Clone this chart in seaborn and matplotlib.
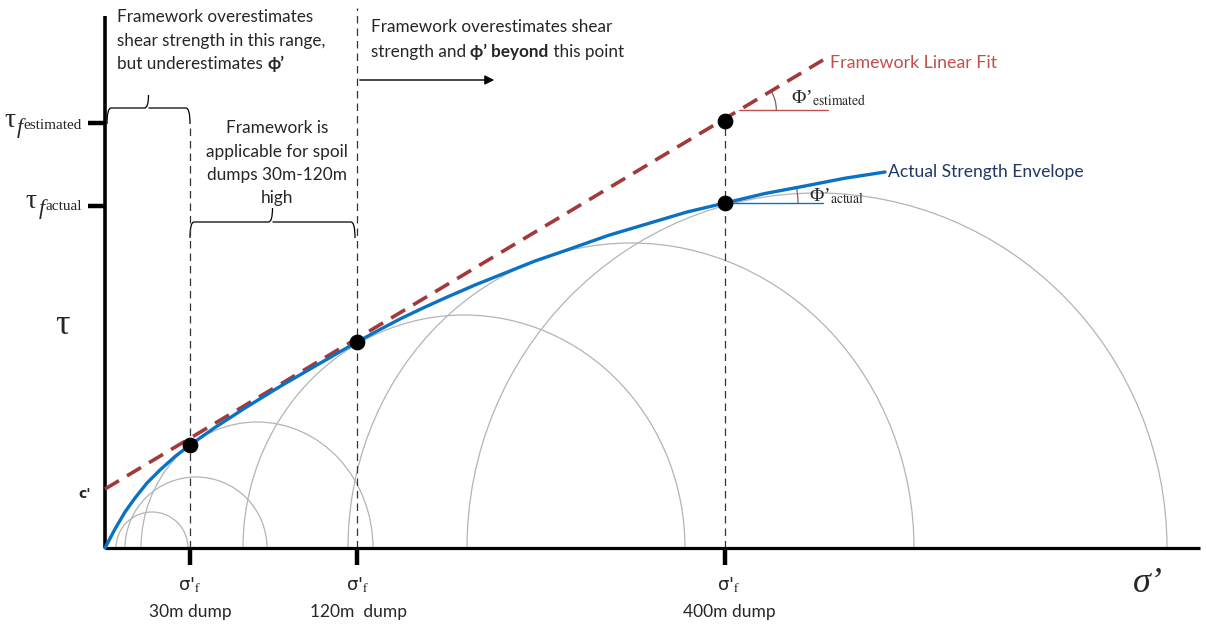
import numpy as np
import pandas as pd
import matplotlib
matplotlib.use("Agg")
import matplotlib.pyplot as plt
from matplotlib.patches import Arc, FancyArrowPatch, PathPatch
from matplotlib.path import Path
import seaborn as sns

# ---- data (σ' horizontal, τ vertical, arbitrary stress units) ----
envelope_sigma = [0, 10, 20, 30, 42, 55, 70, 85, 110, 140, 175, 212, 252,
                  275, 295, 318, 340, 370, 400, 430, 462, 503, 545, 582,
                  620, 660, 700, 740, 780]
envelope_tau = [0, 19, 36, 50, 65, 78, 91.5, 103, 120.5, 140, 161.5, 183, 206,
                218.5, 229, 240, 250, 263, 275, 287, 298, 312.5, 325, 336,
                345, 354.5, 362, 369.8, 376]

fit_sigma = [0, 718]          # linear fit drawn from c' to its end
fit_tau = [59, 488]

dump_labels = ["30m dump", "120m  dump", "400m dump"]
dump_sigma = [85, 252, 620]
dump_tau = [103, 206, 345]
tau_estimated = 427

# Mohr circles: centre on σ' axis, half-width, height
circle_centre = [47, 91, 152, 359, 526, 712]
circle_halfwidth = [36, 71, 116, 221, 283, 350]
circle_height = [36, 71, 126, 233, 305, 355]

BLUE = "#0a72c4"
RED = "#a23a3a"
RED_LABEL = "#c0504d"
NAVY = "#1f3864"
ARC_BROWN = "#8c5a55"
SERIF = ["Liberation Serif", "DejaVu Serif"]

sns.set_theme(style="white")
plt.rcParams["font.family"] = ["Lato", "DejaVu Sans"]
plt.rcParams["mathtext.fontset"] = "stix"

fig = plt.figure(figsize=(12.06, 6.25), dpi=100)
ax = fig.add_axes([0, 0, 1, 1])
ax.set_xlim(-105, 1101)
ax.set_ylim(-77, 548)
ax.axis("off")

# Mohr circles
for c, hw, h in zip(circle_centre, circle_halfwidth, circle_height):
    ax.add_patch(Arc((c, 0), 2 * hw, 2 * h, theta1=0, theta2=180,
                     color="#b4b4b4", lw=0.9, zorder=1))

# vertical guides at σ'f
guide_tops = [425, 540, tau_estimated]
for s, top in zip(dump_sigma, guide_tops):
    ax.plot([s, s], [0, top], color="#333333", lw=0.9, ls=(0, (6, 4)), zorder=2)

# axes
ax.plot([0, 1095], [0, 0], color="black", lw=2.3, solid_capstyle="butt", zorder=3)
ax.plot([0, 0], [0, 532], color="black", lw=2.6, solid_capstyle="butt", zorder=3)
for s in dump_sigma:
    ax.plot([s, s], [0, -17], color="black", lw=3.2, solid_capstyle="butt", zorder=3)
tick_levels = [tau_estimated - 2, dump_tau[2] - 3]
for t in tick_levels:
    ax.plot([-17, 0], [t, t], color="black", lw=3.2, solid_capstyle="butt", zorder=3)

# linear fit and actual envelope
fit_df = pd.DataFrame({"sigma": fit_sigma, "tau": fit_tau})
env_df = pd.DataFrame({"sigma": envelope_sigma, "tau": envelope_tau})
sns.lineplot(data=fit_df, x="sigma", y="tau", ax=ax, color=RED, lw=2.6,
             sort=False, zorder=4).lines[-1].set_dashes([4.5, 2.6])
sns.lineplot(data=env_df, x="sigma", y="tau", ax=ax, color=BLUE, lw=2.4,
             sort=False, zorder=5)
ax.lines[-1].set_solid_joinstyle("round")

pts = pd.DataFrame({"sigma": dump_sigma + [dump_sigma[2]],
                    "tau": dump_tau + [tau_estimated]})
sns.scatterplot(data=pts, x="sigma", y="tau", ax=ax, color="black", s=110,
                edgecolor="black", zorder=6)
ax.set_xlim(-105, 1101)
ax.set_ylim(-77, 548)

# friction angle indicators
slope_fit = (fit_tau[1] - fit_tau[0]) / (fit_sigma[1] - fit_sigma[0])
h_est = tau_estimated + 11
x_est = (h_est - fit_tau[0]) / slope_fit
ax.plot([x_est, 723], [h_est, h_est], color=RED_LABEL, lw=1.0, zorder=4)
ax.add_patch(Arc((x_est, h_est), 74, 74, theta1=0,
                 theta2=np.degrees(np.arctan(slope_fit)), color=ARC_BROWN, lw=0.9))
ax.plot([dump_sigma[2], 718], [dump_tau[2], dump_tau[2]], color=BLUE, lw=1.0, zorder=4)
slope_env = (envelope_tau[-1] - envelope_tau[-5]) / (envelope_sigma[-1] - envelope_sigma[-5])
ax.add_patch(Arc((dump_sigma[2], dump_tau[2]), 146, 146, theta1=0,
                 theta2=np.degrees(np.arctan(slope_env)), color=ARC_BROWN, lw=0.9))

ax.text(686, 450, "Φ’$_{\\mathrm{estimated}}$", fontsize=14, family=SERIF,
        ha="left", va="center")
ax.text(704, 352, "Φ’$_{\\mathrm{actual}}$", fontsize=14, family=SERIF,
        ha="left", va="center")

# series labels
ax.text(725, 485, "Framework Linear Fit", color=RED_LABEL, fontsize=12.8,
        ha="left", va="center")
ax.text(783, 376, "Actual Strength Envelope", color=NAVY, fontsize=12.6,
        ha="left", va="center")

# axis symbols
ax.text(-43, 223, "τ", fontsize=26, family=SERIF, ha="center", va="center")
ax.text(1043, -35, "σ’", fontsize=26, family=SERIF, style="italic",
        ha="center", va="center")
ax.text(-20, 54, "c'", fontsize=10, fontweight="bold", family=["DejaVu Sans"],
        ha="center", va="center")

fig.canvas.draw()
renderer = fig.canvas.get_renderer()
inv = ax.transData.inverted()


def left_of(text_artist):
    return inv.transform((text_artist.get_window_extent(renderer=renderer).x0, 0))[0]


def tau_label(right, base, sub):
    """τ with italic f and a small subscript, right-aligned at the y axis."""
    t = ax.text(right, base - 2, sub, fontsize=11, family=SERIF,
                ha="right", va="baseline")
    t = ax.text(left_of(t) - 1, base - 6, "f", fontsize=16, family=SERIF,
                style="italic", ha="right", va="baseline")
    ax.text(left_of(t) - 1.5, base, "τ", fontsize=20, family=SERIF,
            ha="right", va="baseline")


tau_label(-23, tick_levels[0] - 4, "estimated")
tau_label(-23, tick_levels[1] - 2, "actual")

# σ'f labels
label_centres = [85, 253, 624]
for s, lab in zip(label_centres, dump_labels):
    ax.text(s, -37, "σ'$_{\\mathrm{f}}$", fontsize=13, ha="center", va="center",
            family=["DejaVu Sans"])
    ax.text(s, -64, lab, fontsize=12.5, ha="center", va="center")


def runs(x, y, parts, size=12.3):
    """Draw consecutive text runs on one line, each with its own weight."""
    cur = x
    for txt, weight in parts:
        t = ax.text(cur, y, txt, fontsize=size, fontweight=weight,
                    ha="left", va="center")
        bb = t.get_window_extent(renderer=renderer)
        cur = inv.transform((bb.x1, bb.y0))[0]


runs(12, 531, [("Framework overestimates", "normal")])
runs(12, 507, [("shear strength in this range,", "normal")])
runs(12, 484, [("but underestimates ", "normal"), ("ϕ’", "bold")])

runs(266, 521, [("Framework overestimates shear", "normal")])
runs(266, 496, [("strength and ", "normal"), ("ϕ’ beyond", "bold"),
                (" this point", "normal")])
ax.add_patch(FancyArrowPatch((252, 468), (392, 468), arrowstyle="-|>",
                             mutation_scale=14, color="black", lw=1.0))

for i, line in enumerate(["Framework is", "applicable for spoil",
                          "dumps 30m-120m", "high"]):
    ax.text(172, 420 - i * 23.5, line, fontsize=12.4, ha="center", va="center")


def brace(x0, x1, y, tip, hook):
    xm = (x0 + x1) / 2
    verts = [(x0, y - hook), (x0, y), (x0 + 4, y),
             (xm - 4, y), (xm, y), (xm, y + tip),
             (xm, y), (xm + 4, y),
             (x1 - 4, y), (x1, y), (x1, y - hook)]
    codes = [Path.MOVETO, Path.CURVE3, Path.CURVE3,
             Path.LINETO, Path.CURVE3, Path.CURVE3,
             Path.MOVETO, Path.LINETO,
             Path.LINETO, Path.CURVE3, Path.CURVE3]
    ax.add_patch(PathPatch(Path(verts, codes), fill=False, color="black", lw=0.9))


brace(2, 85, 440, 13, 16)
brace(85, 250, 326, 14, 16)

fig.savefig("out.png", dpi=100)
